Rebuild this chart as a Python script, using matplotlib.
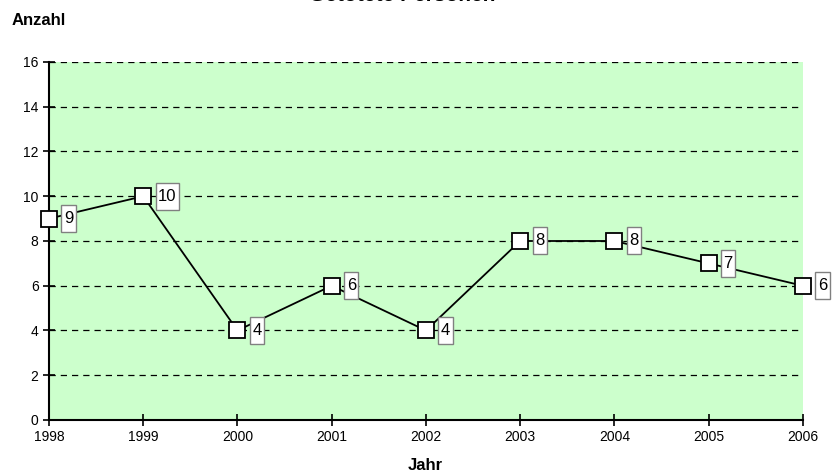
import matplotlib
matplotlib.use("Agg")
import matplotlib.pyplot as plt
from matplotlib.path import Path

plt.rcParams['font.family'] = ['Liberation Sans', 'DejaVu Sans']

years = [1998, 1999, 2000, 2001, 2002, 2003, 2004, 2005, 2006]
killed = [9, 10, 4, 6, 4, 8, 8, 7, 6]


def label_box(x0, y0, width, height, mutation_size):
    # taller than wide padding, like the Excel data labels
    px, py = 2.5, 6
    x0, y0 = x0 - px, y0 - py
    x1, y1 = x0 + width + 2 * px, y0 + height + 2 * py
    return Path([(x0, y0), (x1, y0), (x1, y1), (x0, y1), (x0, y0)], closed=True)


fig = plt.figure(figsize=(8.33, 4.75), dpi=100)
ax = fig.add_axes([0.0588, 0.1158, 0.905, 0.7537])
ax.set_facecolor('#CCFFCC')

ax.plot(years, killed, color='black', lw=1.3, marker='s', markersize=12,
        markerfacecolor='white', markeredgecolor='black', markeredgewidth=1.3,
        zorder=3, clip_on=False)

for x, y in zip(years, killed):
    ax.annotate(str(y), (x, y), xytext=(15, 0), textcoords='offset pixels',
                ha='left', va='center', fontsize=12, zorder=4,
                bbox=dict(boxstyle=label_box, fc='white', ec='#808080', lw=1),
                annotation_clip=False)

ax.set_xlim(1998, 2006)
ax.set_ylim(0, 16)
ax.set_xticks(years)
ax.set_yticks(range(0, 17, 2))
ax.tick_params(direction='inout', length=8, width=1.2, labelsize=10)
ax.yaxis.grid(True, linestyle=(0, (5, 4)), color='black', lw=0.9)
ax.set_axisbelow(True)
for s in ['top', 'right']:
    ax.spines[s].set_visible(False)
for s in ['left', 'bottom']:
    ax.spines[s].set_linewidth(1.5)

fig.text(0.483, 0.9985, 'Getötete Personen', ha='center', va='baseline',
         fontsize=15, fontweight='bold')
fig.text(0.014, 0.957, 'Anzahl', ha='left', va='center', fontsize=12, fontweight='bold')
fig.text(0.511, 0.019, 'Jahr', ha='center', va='center', fontsize=12, fontweight='bold')

fig.savefig('out.png', dpi=100)
